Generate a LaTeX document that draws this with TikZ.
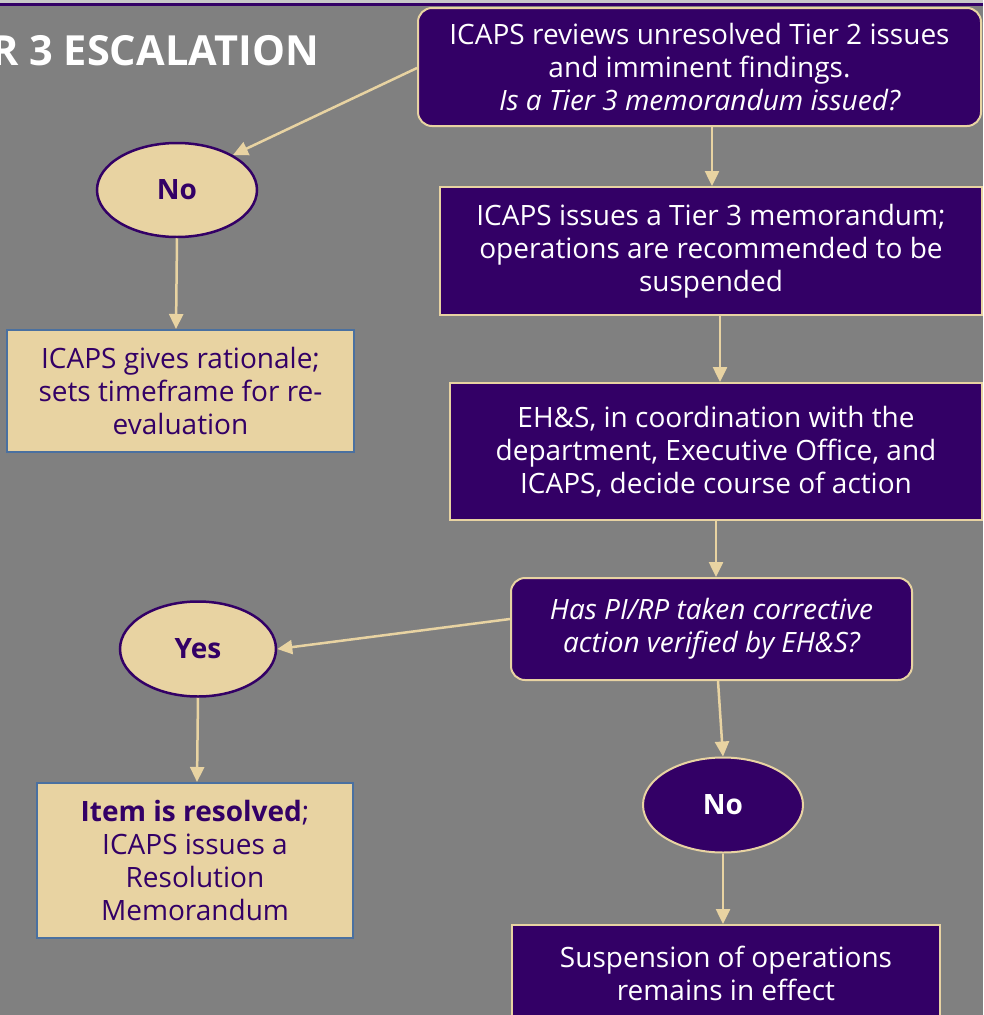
\documentclass[tikz,border=0pt]{standalone}
\usepackage{fontspec}
\setmainfont{Open Sans}
\usetikzlibrary{arrows.meta,shapes.geometric}
\definecolor{uwpurple}{HTML}{330066}
\definecolor{uwgold}{HTML}{E8D3A2}
\definecolor{bggrey}{HTML}{808080}
\definecolor{boxblue}{HTML}{4A70A0}
\definecolor{stripgrey}{HTML}{C8C8C8}
\tikzset{
  body/.style={font=\fontsize{28}{33}\selectfont},
  pbox/.style={draw=uwgold, fill=uwpurple, line width=2pt, text=white, align=center, inner sep=0pt, body},
  tbox/.style={draw=boxblue, fill=uwgold, line width=2pt, text=uwpurple, align=center, inner sep=0pt, body},
  tell/.style={ellipse, draw=uwpurple, fill=uwgold, line width=2.5pt, text=uwpurple, inner sep=0pt, font=\fontsize{28}{33}\selectfont\bfseries},
  pell/.style={ellipse, draw=uwgold, fill=uwpurple, line width=2pt, text=white, inner sep=0pt, font=\fontsize{28}{33}\selectfont\bfseries},
  arr/.style={draw=uwgold, line width=2.5pt, -{Triangle[length=15pt,width=14pt]}, fill=uwgold}
}
\begin{document}
\begin{tikzpicture}[x=1pt,y=-1pt]
\useasboundingbox (0,0) rectangle (983,1015);
\clip (0,0) rectangle (983,1015);
\fill[bggrey] (0,0) rectangle (983,1015);
\fill[stripgrey] (0,0) rectangle (983,3);
\fill[uwpurple] (0,3) rectangle (983,6);

\node[anchor=base east, text=white, inner sep=0pt, font=\fontsize{41.5}{44}\selectfont\bfseries] (title) at (319,65) {TIER 3 ESCALATION};

\node[pbox, rounded corners=14pt, minimum width=563, minimum height=118] (top) at (699.5,67)
  {ICAPS reviews unresolved Tier 2 issues\\ and imminent findings.\\ \itshape Is a Tier 3 memorandum issued?};
\node[pbox, minimum width=542, minimum height=128] (b2) at (711,251)
  {ICAPS issues a Tier 3 memorandum;\\ operations are recommended to be\\ suspended};
\node[pbox, minimum width=532, minimum height=137] (b3) at (716,451.5)
  {EH\&S, in coordination with the\\ department, Executive Office, and\\ ICAPS, decide course of action};
\node[pbox, rounded corners=14pt, minimum width=401, minimum height=102] (b4) at (711.5,629)
  {\itshape Has PI/RP taken corrective\\ \itshape action verified by EH\&S?};
\node[pell, minimum width=160, minimum height=95] (no2) at (723,805) {No};
\node[pbox, minimum width=428, minimum height=97] (b5) at (726,973.5)
  {Suspension of operations\\ remains in effect};

\node[tell, minimum width=160, minimum height=94] (no1) at (177,190) {No};
\node[tbox, minimum width=347, minimum height=122] (rat) at (180.5,391)
  {ICAPS gives rationale;\\ sets timeframe for re-\\ evaluation};
\node[tell, minimum width=156, minimum height=95] (yes) at (198,649) {Yes};
\node[tbox, minimum width=316, minimum height=155] (res) at (195,860.5)
  {\textbf{Item is resolved};\\ ICAPS issues a\\ Resolution\\ Memorandum};

\draw[arr] (top.west |- 0,68) -- (no1.32);
\draw[arr] (top.south -| 712,0) -- (b2.north -| 712,0);
\draw[arr] (b2.south -| 720,0) -- (b3.north -| 720,0);
\draw[arr] (b3.south -| 716,0) -- (b4.north -| 716,0);
\draw[arr] (b4.west |- 0,619) -- (yes.east);
\draw[arr] (b4.south -| 718,0) -- (no2.north);
\draw[arr] (no2.south) -- (b5.north -| 723,0);
\draw[arr] (no1.south) -- (rat.north -| 176,0);
\draw[arr] (yes.south) -- (res.north -| 197,0);
\end{tikzpicture}
\end{document}
